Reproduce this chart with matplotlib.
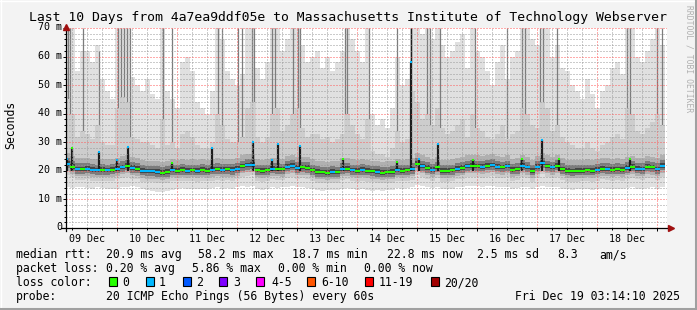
import numpy as np
import matplotlib.pyplot as plt
from matplotlib.lines import Line2D
from matplotlib.patches import Rectangle
from matplotlib import transforms

W, H = 697, 310
MONO = 'DejaVu Sans Mono'

# ---------------- data (2 hour bins, start Dec 09 03:14) ----------------
t_start = 0.1347          # days since 09 Dec 00:00
bin_days = 1 / 12

med = [
    22.5, 21.5, 20.6, 20.6, 20.8, 20.4, 20.2, 20.3, 20.2, 20.4,
    20.8, 21.3, 21.8, 21.0, 20.8, 20.0, 19.8, 19.8, 19.6, 19.4,
    19.6, 20.2, 20.1, 20.3, 20.1, 20.2, 20.0, 20.3, 20.1, 20.4,
    20.6, 20.4, 20.5, 20.3, 20.8, 21.6, 22.0, 22.2, 20.2, 20.0,
    20.2, 20.8, 20.6, 20.5, 21.4, 21.8, 21.0, 21.2, 21.0, 20.2,
    19.6, 19.5, 19.4, 19.6, 19.5, 20.6, 20.8, 20.2, 20.0, 20.3,
    20.0, 19.8, 19.6, 19.4, 19.5, 19.6, 20.2, 20.1, 20.2, 20.6,
    22.5, 21.6, 21.0, 20.4, 21.2, 20.0, 20.0, 20.2, 20.8, 21.0,
    21.6, 21.8, 21.6, 21.4, 21.8, 22.0, 21.4, 21.2, 21.6, 20.4,
    20.6, 21.8, 21.2, 20.0, 21.4, 22.6, 21.6, 21.2, 21.8, 20.6,
    20.0, 19.9, 20.0, 20.1, 20.2, 20.0, 20.4, 20.8, 20.6, 20.4,
    20.6, 20.4, 21.0, 21.4, 20.8, 20.6, 21.4, 21.2, 20.6, 21.8,
]
loss = [
    1, 0, 1, 0, 1, 1, 1, 0, 1, 0,
    1, 1, 0, 1, 0, 1, 1, 1, 1, 0,
    0, 1, 0, 0, 1, 0, 1, 0, 0, 1,
    0, 1, 0, 1, 1, 0, 1, 1, 0, 0,
    0, 1, 0, 0, 1, 1, 1, 0, 0, 0,
    0, 0, 0, 1, 0, 1, 0, 1, 0, 1,
    0, 0, 1, 0, 0, 0, 1, 0, 0, 1,
    0, 1, 0, 1, 0, 0, 0, 0, 1, 0,
    1, 0, 0, 1, 0, 1, 1, 0, 1, 0,
    0, 1, 1, 0, 1, 1, 0, 1, 0, 0,
    0, 0, 0, 0, 0, 0, 1, 0, 1, 0,
    0, 0, 1, 0, 1, 1, 0, 0, 1, 1,
]
smoke_hi = [
    70, 70, 55, 62, 62, 58, 64, 52, 48, 45,
    70, 70, 70, 53, 50, 48, 52, 47, 45, 70,
    48, 45, 42, 58, 60, 55, 44, 42, 40, 48,
    70, 66, 55, 52, 50, 54, 70, 70, 56, 52,
    58, 70, 70, 62, 66, 70, 70, 64, 58, 60,
    62, 56, 60, 55, 58, 62, 70, 66, 62, 58,
    70, 40, 36, 38, 35, 42, 60, 50, 52, 70,
    70, 68, 70, 66, 70, 64, 60, 62, 65, 68,
    56, 70, 62, 60, 55, 50, 58, 64, 52, 60,
    62, 70, 70, 66, 64, 70, 70, 60, 64, 56,
    55, 50, 48, 45, 52, 47, 42, 48, 50, 56,
    58, 54, 70, 70, 60, 58, 62, 66, 70, 64,
]
smoke_mid = [
    45, 40, 32, 34, 33, 31, 36, 30, 29, 29,
    42, 46, 44, 32, 31, 30, 30, 29, 28, 38,
    29, 30, 28, 33, 34, 32, 29, 28, 28, 30,
    40, 36, 31, 30, 30, 32, 42, 44, 32, 30,
    32, 40, 42, 34, 36, 40, 42, 35, 32, 33,
    33, 31, 32, 30, 31, 33, 40, 36, 33, 31,
    38, 27, 26, 26, 25, 28, 34, 30, 31, 48,
    44, 38, 40, 36, 42, 35, 33, 34, 36, 38,
    32, 40, 35, 34, 32, 31, 33, 36, 31, 33,
    34, 42, 40, 36, 35, 44, 42, 34, 36, 32,
    30, 29, 28, 28, 30, 28, 27, 29, 30, 32,
    33, 31, 42, 40, 34, 33, 35, 37, 40, 36,
]
smoke_lo = [
    14.5, 14.0, 14.2, 14.5, 14.0, 13.8, 14.2, 14.0, 13.6, 13.5,
    13.8, 14.4, 14.5, 14.6, 14.2, 13.5, 13.2, 12.8, 12.6, 12.5,
    13.0, 13.4, 13.8, 14.0, 13.6, 13.8, 13.5, 13.8, 13.6, 14.0,
    14.2, 13.8, 14.0, 13.8, 14.2, 14.6, 14.5, 14.8, 13.6, 13.4,
    13.8, 14.2, 14.0, 14.2, 14.4, 14.6, 14.2, 14.4, 14.0, 13.8,
    13.2, 13.0, 13.2, 13.4, 13.2, 13.8, 14.0, 13.6, 13.4, 13.8,
    13.4, 13.0, 13.2, 13.0, 13.2, 13.4, 14.0, 13.8, 14.0, 14.4,
    15.0, 14.6, 14.4, 14.0, 14.4, 13.8, 13.6, 13.8, 14.2, 14.4,
    14.6, 14.8, 14.6, 14.4, 14.6, 14.8, 14.4, 14.2, 14.4, 13.8,
    14.0, 14.4, 14.2, 13.6, 14.2, 14.6, 14.4, 14.2, 14.4, 13.8,
    13.6, 13.4, 13.6, 13.8, 13.6, 13.4, 13.8, 14.0, 13.8, 13.6,
    13.8, 13.6, 14.0, 14.2, 13.8, 13.6, 14.0, 14.2, 13.8, 14.4,
]

# short median excursions
spike_day = [0.167, 0.25, 0.70, 1.0, 1.183, 1.917, 2.583, 3.267, 3.583, 3.683, 4.05,
             4.767, 5.667, 5.9, 6.033, 6.35, 6.933, 7.75, 8.083, 8.367, 9.55]
spike_ms = [24.0, 28.0, 26.7, 23.7, 28.4, 22.6, 28.0, 30.2, 23.8, 29.5, 28.7,
            24.2, 23.2, 58.2, 24.2, 29.3, 23.8, 24.2, 30.8, 24.0, 24.2]
spike_loss = [1, 0, 1, 1, 1, 0, 1, 1, 1, 1, 1, 0, 0, 1, 1, 1, 0, 0, 1, 0, 0]

# columns where the smoke is dense all the way up
burst_day = [0.183, 0.217, 0.433, 0.70, 1.017, 1.067, 1.117, 1.167, 1.217, 1.767, 1.917,
             2.683, 2.75, 3.017, 3.083, 3.25, 3.283, 3.583, 3.633, 3.933, 4.017, 4.05,
             4.8, 4.833, 5.2, 5.667, 5.9, 6.167, 6.217, 6.383, 6.967, 7.5, 7.75, 7.8,
             8.05, 8.1, 8.333, 9.5, 9.55, 10.0, 10.083]
burst_top = [70, 70, 70, 62, 70, 70, 70, 70, 70, 70, 70,
             70, 70, 70, 70, 70, 70, 70, 70, 70, 70, 70,
             70, 70, 70, 70, 70, 70, 70, 70, 70, 70, 70, 70,
             70, 70, 70, 70, 70, 70, 70]

day_labels = ['09 Dec', '10 Dec', '11 Dec', '12 Dec', '13 Dec',
              '14 Dec', '15 Dec', '16 Dec', '17 Dec', '18 Dec']
y_ticks = [0, 10, 20, 30, 40, 50, 60, 70]
y_labels = ['0', '10 m', '20 m', '30 m', '40 m', '50 m', '60 m', '70 m']

loss_names = ['0', '1', '2', '3', '4-5', '6-10', '11-19', '20/20']
loss_colors = ['#26ff00', '#00b8ff', '#0059ff', '#7e00ff',
               '#ff00ff', '#ff5500', '#ff0000', '#a10000']

# ---------------- figure ----------------
fig = plt.figure(figsize=(W / 100, H / 100), dpi=100)
fig.patch.set_facecolor('#f3f3f3')


def ftext(x, y, s, **kw):
    kw.setdefault('family', MONO)
    kw.setdefault('color', 'black')
    return fig.text(x / W, 1 - y / H, s, **kw)


ax = fig.add_axes([66 / W, 1 - 228 / H, 601 / W, 200 / H])
ax.set_facecolor('white')

med = np.array(med)
edges = t_start + np.arange(len(med) + 1) * bin_days

# smoke
ax.stairs(smoke_hi, edges, baseline=smoke_lo, fill=True, color='#e0e0e0', zorder=1)
ax.vlines(burst_day, 24, burst_top, color='#7c7c7c', lw=0.9, zorder=1.2)
ax.stairs(smoke_mid, edges, baseline=med - 3.8, fill=True, color='#cdcdcd', zorder=1.3)
ax.stairs(med + 3.8, edges, baseline=med - 2.5, fill=True, color='#b0b0b0', zorder=1.4)
ax.stairs(med + 2.0, edges, baseline=med - 1.6, fill=True, color='#7c7c7c', zorder=1.5)
ax.stairs(med + 0.9, edges, baseline=med - 0.7, fill=True, color='#444444', zorder=1.6)

# spikes
ax.vlines(spike_day, 20, spike_ms, color='#1c1c1c', lw=1.6, zorder=2)
ax.vlines([5.9], 58, 70, color='#1c1c1c', lw=1.0, zorder=2)

# median, coloured by loss
ax.hlines(med, edges[:-1], edges[1:], colors=[loss_colors[l] for l in loss],
          lw=1.5, zorder=3)
ax.hlines(spike_ms, np.array(spike_day) - 0.02, np.array(spike_day) + 0.02,
          colors=[loss_colors[l] for l in spike_loss], lw=1.5, zorder=3)

ax.set_xlim(0.15, 10.167)
ax.set_ylim(0, 70)

# grid
ax.set_xticks(np.arange(1, 11))
ax.set_xticks(np.arange(0.25, 10.2, 0.25), minor=True)
ax.set_yticks(y_ticks)
ax.set_yticks(np.arange(0, 71, 2), minor=True)
ax.set_axisbelow(False)
ax.grid(which='minor', color=(0.6, 0.6, 0.6, 0.55), ls=(0, (1, 2)), lw=0.72)
ax.grid(which='major', color=(1.0, 0.35, 0.35, 0.65), ls=(0, (1, 2)), lw=0.72)
ax.tick_params(which='both', labelbottom=False, labelleft=False,
               direction='out', color='black', width=0.72)
ax.tick_params(which='major', length=2.5)
ax.tick_params(which='minor', length=1.5)

for s in ax.spines.values():
    s.set_visible(False)

# axes with arrows
ax.plot([-0.008, 1.006], [0, 0], transform=ax.transAxes, color='black',
        lw=0.9, clip_on=False, zorder=4)
ax.plot([0, 0], [-0.015, 1.0], transform=ax.transAxes, color='black',
        lw=0.9, clip_on=False, zorder=4)
ax.plot([1.006], [0], transform=ax.transAxes, marker='>', ms=4.5,
        color='#a01010', clip_on=False, zorder=5)
ax.plot([0], [1.005], transform=ax.transAxes, marker='^', ms=4.5,
        color='#a01010', clip_on=False, zorder=5)

# tick labels
trans = transforms.blended_transform_factory(ax.transData, fig.transFigure)
for i, lab in enumerate(day_labels):
    ax.text(i + 0.5, 1 - 241.5 / H, lab, transform=trans, ha='center',
            va='baseline', family=MONO, fontsize=7.2)
for v, lab in zip(y_ticks, y_labels):
    ftext(62, 228 - v * 200 / 70 + 2.5, lab, ha='right', va='baseline', fontsize=7.2)

# title and side texts
ftext(348, 21.5, 'Last 10 Days from 4a7ea9ddf05e to Massachusetts Institute of Technology Webserver',
      ha='center', va='baseline', fontsize=9.45)
ftext(11, 125, 'Seconds', rotation=90, ha='center', va='center', fontsize=8.3)
ftext(689, 5, 'RRDTOOL / TOBI OETIKER', rotation=270, ha='center', va='top',
      fontsize=5.8, color='#b0b0b0')

# legend
fs = 8.3
rows = [258, 272, 286, 300]
ftext(16, rows[0], 'median rtt:', va='baseline', fontsize=fs)
for x, s in [(106, '20.9 ms avg'), (198, '58.2 ms max'), (292, '18.7 ms min'),
             (387, '22.8 ms now'), (477, '2.5 ms sd'), (557, '8.3'), (599, 'am/s')]:
    ftext(x, rows[0], s, va='baseline', fontsize=fs)

ftext(16, rows[1], 'packet loss:', va='baseline', fontsize=fs)
for x, s in [(106, '0.20 % avg'), (192, '5.86 % max'), (278, '0.00 % min'),
             (364, '0.00 % now')]:
    ftext(x, rows[1], s, va='baseline', fontsize=fs)

ftext(16, rows[2], 'loss color:', va='baseline', fontsize=fs)
box_x = [109, 146, 183, 219, 256, 307, 365, 431]
lab_x = [122, 159, 196, 233, 271, 321, 379, 444]
for bx, lx, c, n in zip(box_x, lab_x, loss_colors, loss_names):
    fig.add_artist(Rectangle((bx / W, 1 - 286 / H), 8 / W, 9 / H, facecolor=c,
                             edgecolor='black', lw=0.8, transform=fig.transFigure))
    ftext(lx, rows[2], n, va='baseline', fontsize=fs)

ftext(16, rows[3], 'probe:', va='baseline', fontsize=fs)
ftext(106, rows[3], '20 ICMP Echo Pings (56 Bytes) every 60s', va='baseline', fontsize=fs)
ftext(680, rows[3], 'Fri Dec 19 03:14:10 2025', ha='right', va='baseline', fontsize=fs)

# 3d frame of the image
for (x0, y0, x1, y1, c) in [(0, 0.5, W, 0.5, '#ffffff'), (0.5, 0, 0.5, H, '#ffffff'),
                            (W - 1.5, 0, W - 1.5, H, '#a0a0a0'),
                            (0, H - 1.5, W, H - 1.5, '#a0a0a0')]:
    fig.add_artist(Line2D([x0 / W, x1 / W], [1 - y0 / H, 1 - y1 / H], color=c,
                          lw=2.2 if c != '#ffffff' else 1.0,
                          transform=fig.transFigure))

fig.savefig('out.png', dpi=100, facecolor=fig.get_facecolor())
